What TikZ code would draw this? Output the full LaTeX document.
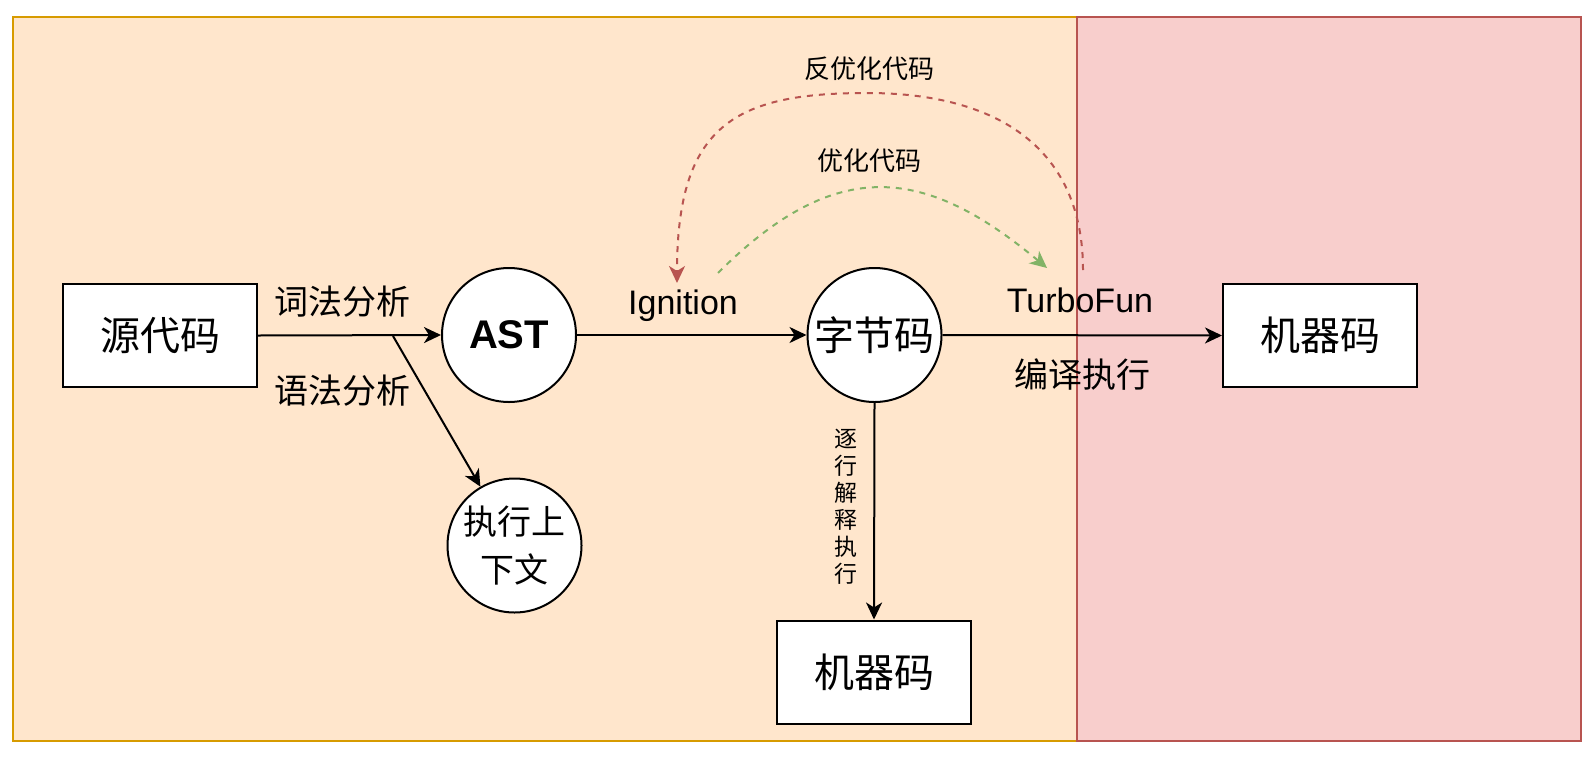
\documentclass[tikz,border=0pt]{standalone}
\usepackage{fontspec}
\setmainfont{Liberation Sans}
\newfontfamily\cjk{Noto Sans CJK SC}
\usetikzlibrary{arrows.meta}
\definecolor{orfill}{HTML}{FFE6CC}
\definecolor{orline}{HTML}{D79B00}
\definecolor{rdfill}{HTML}{F8CECC}
\definecolor{rdline}{HTML}{B85450}
\definecolor{grline}{HTML}{82B366}
\begin{document}
\begin{tikzpicture}[x=1pt,y=-1pt,
  box/.style={draw=black,fill=white,line width=2pt,minimum width=194pt,minimum height=103pt,inner sep=0pt,font=\cjk\fontsize{40}{48}\selectfont},
  circ/.style={draw=black,fill=white,circle,line width=2pt,minimum size=134pt,inner sep=0pt},
  conn/.style={line width=2pt,-{Stealth[length=17pt,width=16pt,inset=5pt]}},
  dconn/.style={line width=2pt,dash pattern=on 6pt off 6pt,-{Stealth[length=17pt,width=16pt,inset=5pt]}},
  lbl/.style={font=\cjk\fontsize{34}{40}\selectfont,inner sep=0pt},
  lbllat/.style={font=\fontsize{34}{40}\selectfont,inner sep=0pt},
  smlbl/.style={font=\cjk\fontsize{26}{30}\selectfont,inner sep=0pt},
  panel/.style={line width=2pt}
]
\useasboundingbox (0,0) rectangle (1594,758);
% panels
\draw[panel,fill=orfill,draw=orline] (13,17) rectangle (1077,741);
\draw[panel,fill=rdfill,draw=rdline] (1077,17) rectangle (1581,741);

% nodes
\node[box] (src) at (160,335.5) {源代码};
\node[circ,font=\bfseries\fontsize{40}{48}\selectfont] (ast) at (509,335) {AST};
\node[circ,font=\cjk\fontsize{34}{48}\selectfont,align=center] (ctx) at (514.5,545.5) {执行上\\下文};
\node[circ,font=\cjk\fontsize{40}{48}\selectfont] (byte) at (874.5,335) {字节码};
\node[box] (mc2) at (1320,335.5) {机器码};
\node[box] (mc1) at (874,672) {机器码};

% labels
\node[lbl] (l1) at (342,302) {词法分析};
\node[lbl] (l2) at (342,391) {语法分析};
\node[lbllat] (ign) at (683,306) {Ignition};
\node[lbllat] (turbo) at (1080,300) {TurboFun};
\node[lbl] (l3) at (1082,375) {编译执行};
\node[font=\cjk\fontsize{23}{27}\selectfont,align=center,inner sep=0pt] (l4) at (846,507) {逐\\行\\解\\释\\执\\行};
\node[smlbl] (l5) at (869,69) {反优化代码};
\node[smlbl] (l6) at (869,161) {优化代码};

% connectors
\coordinate (split) at (393,336);
\draw[conn] (src.east) -- (ast.west);
\draw[conn] (split) -- (ctx);
\draw[conn] (ast.east) -- (byte.west);
\draw[conn] (byte.east) -- (mc2.west);
\draw[conn] (byte.south) -- (mc1.north);

% curved dashed arrows
\coordinate (rs) at (1083,270);
\coordinate (re) at (677,283);
\coordinate (gs) at (718,273);
\coordinate (ge) at (1047,268);
\draw[dconn,draw=rdline,-{Stealth[length=17pt,width=16pt,inset=5pt,fill=rdline]}] (rs) .. controls (1083,150) and (1000,93) .. (867,93) .. controls (735,93) and (677,125) .. (re);
\draw[dconn,draw=grline,-{Stealth[length=17pt,width=16pt,inset=5pt,fill=grline]}] (gs) .. controls (838,153) and (927,168) .. (ge);
\end{tikzpicture}
\end{document}
